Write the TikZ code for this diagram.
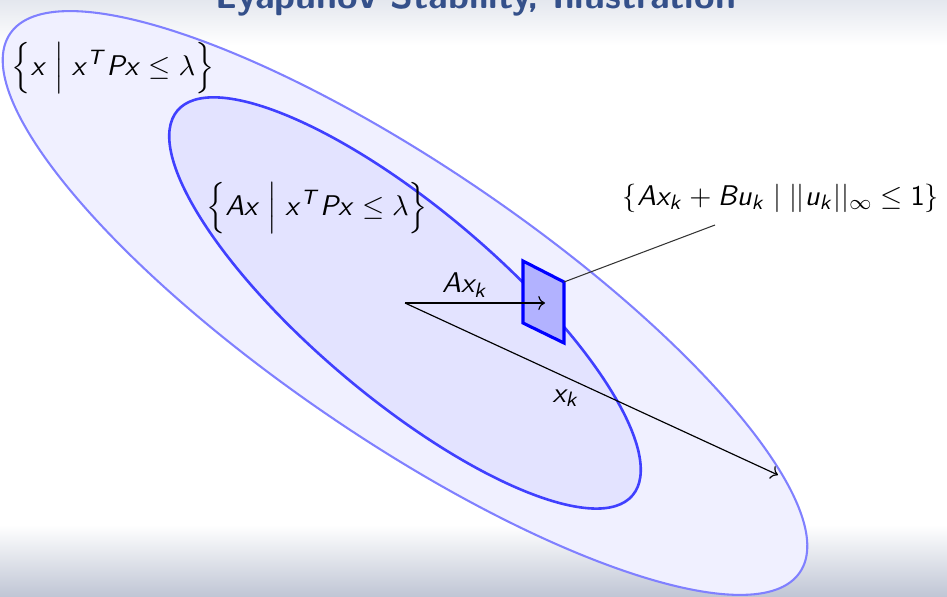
\documentclass[tikz,border=0pt]{standalone}
\usepackage{amsmath,amssymb}
\usepackage{tikz}
\usetikzlibrary{positioning,arrows.meta}

\DeclareMathAlphabet{\mathsfit}{OT1}{cmss}{m}{sl}
\newcommand{\sv}[1]{\mathsfit{#1}}
\definecolor{titleblue}{HTML}{34508A}
\definecolor{topgray}{HTML}{E4E7EE}
\definecolor{shadegray}{HTML}{C0C6D5}

\begin{document}
\begin{tikzpicture}[
  x=0.01352cm, y=-0.01352cm,
  font=\fontsize{11}{13}\selectfont\sffamily,
  outerset/.style={draw=blue!50, fill=blue!6, line width=0.8pt},
  innerset/.style={draw=blue!75, fill=blue!11, line width=1pt},
  inputset/.style={draw=blue, fill=blue!30, line width=1.2pt},
  vec/.style={->, line width=0.45pt},
  >=To
]
\useasboundingbox (0,0) rectangle (947,596);
% slide background
\fill[top color=topgray, bottom color=white] (0,0) rectangle (947,45);
\fill[top color=white, bottom color=shadegray] (0,525) rectangle (947,596);
\node[font=\fontsize{14.4}{17}\selectfont\sffamily\bfseries, text=titleblue, anchor=base] (title) at (476,8) {Lyapunov Stability, Illustration};

\coordinate (o) at (405,303);
\coordinate (ax) at (545,303);
\coordinate (xk) at (778,475);
\coordinate (bu) at (564,282);
\coordinate (tip) at (715,225);

% level set and its image
\draw[outerset, rotate around={-34.3:(o)}] (o) ellipse [x radius=478, y radius=136];
\draw[innerset, rotate around={-40.2:(o)}] (o) ellipse [x radius=298, y radius=95];

\draw[vec] (o) -- (xk);
\draw[inputset] (523,261) -- (bu) -- (564,343) -- (523,323) -- cycle;
\draw[vec] (o) -- (ax);
\draw[line width=0.4pt, black!80] (bu) -- (tip);

\node (lset) at (113,68) {$\Bigl\{\sv{x} \Bigm| \sv{x}^{\sv{T}}\sv{P}\sv{x} \le \lambda\Bigr\}$};
\node (img) at (317,208) {$\Bigl\{\sv{A}\sv{x} \Bigm| \sv{x}^{\sv{T}}\sv{P}\sv{x} \le \lambda\Bigr\}$};
\node (reach) at (781,198) {$\{\sv{A}\sv{x}_{\sv{k}} + \sv{B}\sv{u}_{\sv{k}} \mid ||\sv{u}_{\sv{k}}||_\infty \le \mathsf{1}\}$};
\node (axl) at (465,285) {$\sv{A}\sv{x}_{\sv{k}}$};
\node (xkl) at (566,398) {$\sv{x}_{\sv{k}}$};
\end{tikzpicture}
\end{document}
